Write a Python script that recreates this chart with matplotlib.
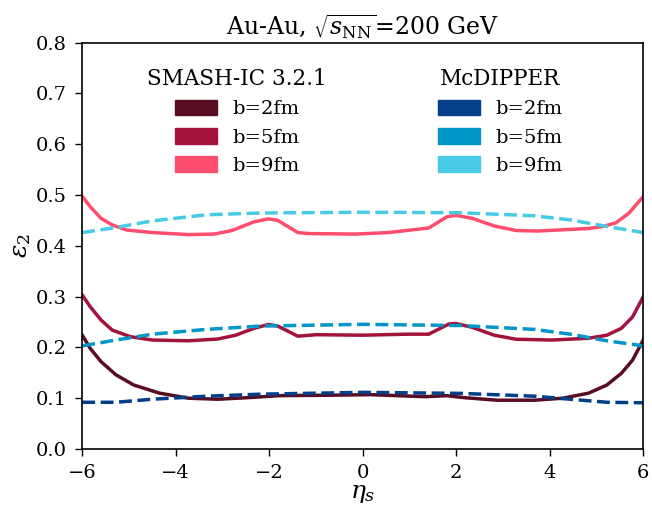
import numpy as np
import matplotlib
matplotlib.use("Agg")
import matplotlib.pyplot as plt
from matplotlib.patches import Patch

plt.rcParams["font.family"] = "DejaVu Serif"
plt.rcParams["mathtext.fontset"] = "dejavuserif"

# SMASH-IC 3.2.1 eccentricity vs space-time rapidity
eta_smash_b2 = [-6.0, -5.83, -5.6, -5.28, -4.9, -4.35, -3.73, -3.1, -2.48, -1.78, -0.6,
                0.16, 1.33, 1.8, 2.18, 2.88, 3.66, 4.28, 4.83, 5.22, 5.53, 5.77, 6.0]
eps_smash_b2 = [0.224, 0.198, 0.172, 0.146, 0.126, 0.110, 0.100, 0.098, 0.101, 0.105, 0.106,
                0.107, 0.103, 0.105, 0.101, 0.096, 0.096, 0.100, 0.110, 0.126, 0.149, 0.175, 0.215]

eta_smash_b5 = [-6.0, -5.83, -5.6, -5.36, -4.97, -4.5, -3.73, -3.1, -2.72, -2.33, -2.02, -1.82,
                -1.39, -1.0, 0.0, 0.94, 1.41, 1.84, 1.99, 2.34, 2.81, 3.28, 4.05, 4.83, 5.22,
                5.53, 5.77, 6.0]
eps_smash_b5 = [0.303, 0.280, 0.254, 0.234, 0.221, 0.2145, 0.213, 0.2165, 0.224, 0.2375, 0.245,
                0.242, 0.222, 0.225, 0.224, 0.226, 0.226, 0.246, 0.247, 0.2395, 0.224, 0.216,
                0.2145, 0.218, 0.224, 0.2375, 0.260, 0.300]

eta_smash_b9 = [-6.0, -5.83, -5.6, -5.36, -5.05, -4.5, -3.73, -3.18, -2.8, -2.33, -2.02, -1.82,
                -1.39, -1.16, -0.15, 0.55, 1.41, 1.8, 1.99, 2.34, 2.81, 3.28, 3.74, 4.83, 5.14,
                5.41, 5.69, 6.0]
eps_smash_b9 = [0.497, 0.477, 0.454, 0.441, 0.431, 0.426, 0.422, 0.423, 0.430, 0.447, 0.453,
                0.450, 0.426, 0.424, 0.423, 0.426, 0.435, 0.457, 0.460, 0.454, 0.439, 0.430,
                0.429, 0.434, 0.438, 0.445, 0.464, 0.497]

# McDIPPER
eta_mcd = [-6.0, -5.28, -4.5, -3.34, -2.17, 0.0, 2.1, 3.66, 4.44, 5.22, 6.0]
eps_mcd_b2 = [0.092, 0.092, 0.098, 0.104, 0.108, 0.1115, 0.1095, 0.104, 0.098, 0.092, 0.091]
eps_mcd_b5 = [0.203, 0.2145, 0.226, 0.2355, 0.242, 0.2454, 0.243, 0.2355, 0.226, 0.213, 0.203]
eps_mcd_b9 = [0.426, 0.436, 0.449, 0.461, 0.4645, 0.466, 0.465, 0.459, 0.451, 0.438, 0.426]

labels = ["b=2fm", "b=5fm", "b=9fm"]
red = ["#590d22", "#a4133c", "#ff4d6d"]
blue = ["#023e8a", "#0096c7", "#48cae4"]

fig = plt.figure(figsize=(6.52, 5.08), dpi=100)
ax = fig.add_axes([0.1262, 0.1161, 0.8605, 0.8002])

smash = [(eta_smash_b2, eps_smash_b2), (eta_smash_b5, eps_smash_b5), (eta_smash_b9, eps_smash_b9)]
mcd = [eps_mcd_b2, eps_mcd_b5, eps_mcd_b9]
for (x, y), c in zip(smash, red):
    ax.plot(x, y, color=c, lw=2.5)
for y, c in zip(mcd, blue):
    ax.plot(eta_mcd, y, color=c, lw=2.5, ls="--")

ax.set_xlim(-6, 6)
ax.set_ylim(0, 0.8)
ax.set_xticks([-6, -4, -2, 0, 2, 4, 6])
ax.set_yticks(np.arange(0, 0.81, 0.1))
ax.tick_params(labelsize=14, direction="out", length=5, width=1, pad=6)
for s in ax.spines.values():
    s.set_linewidth(1.2)
ax.set_xlabel(r"$\eta_s$", fontsize=18, labelpad=0)
ax.set_ylabel(r"$\varepsilon_2$", fontsize=18, labelpad=2)
ax.set_title(r"Au-Au, $\sqrt{s_{\rm NN}}$=200 GeV", fontsize=17, pad=5)

# two side-by-side legends, one per model
legend_kw = dict(loc="upper center", frameon=False, fontsize=14, title_fontsize=15.5,
                 handlelength=2.15, handleheight=0.85, handletextpad=0.8,
                 labelspacing=0.5)
h1 = [Patch(facecolor=c, edgecolor=c) for c in red]
h2 = [Patch(facecolor=c, edgecolor=c) for c in blue]
leg1 = ax.legend(h1, labels, title="SMASH-IC 3.2.1", bbox_to_anchor=(0.276, 0.98), **legend_kw)
ax.add_artist(leg1)
ax.legend(h2, labels, title="McDIPPER", bbox_to_anchor=(0.745, 0.98), **legend_kw)

fig.savefig("out.png", dpi=100)
